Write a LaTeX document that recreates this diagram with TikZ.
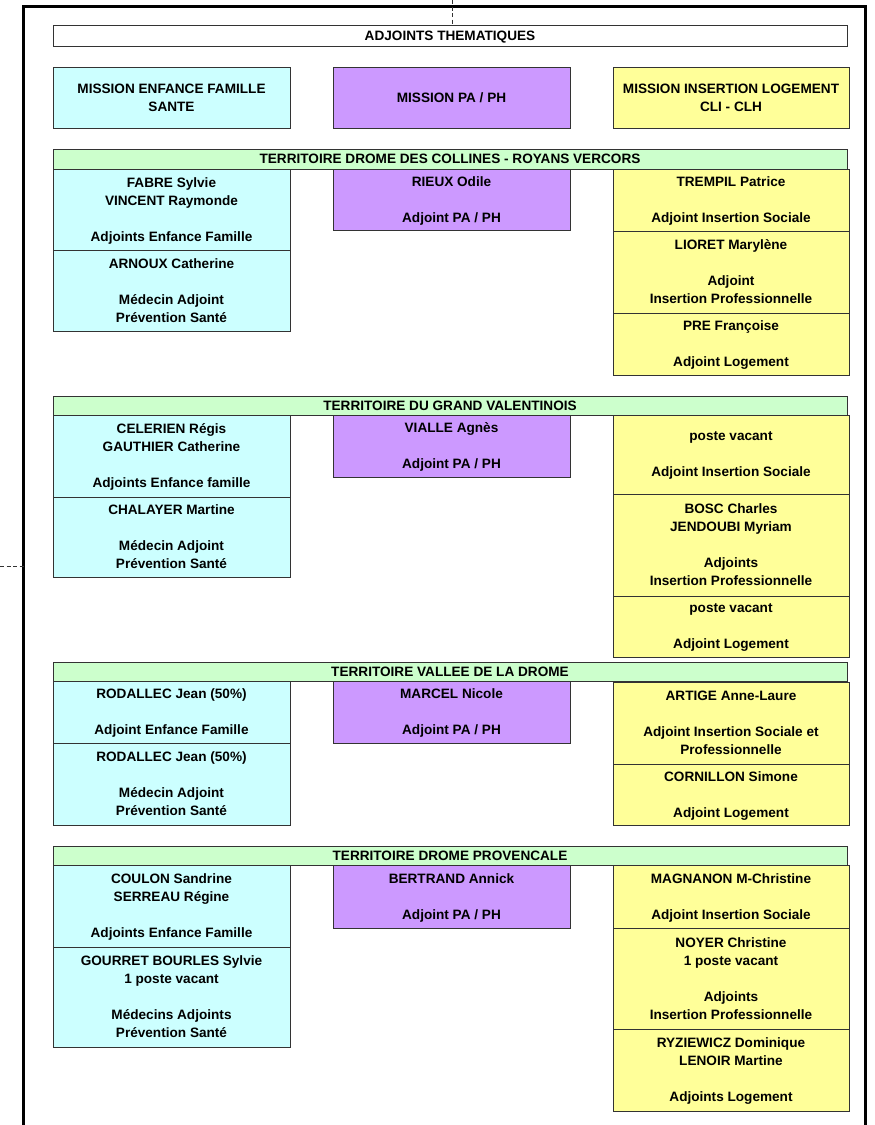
\documentclass[tikz,border=0pt]{standalone}
\usepackage{fontspec}
\setmainfont{Liberation Sans}
\usetikzlibrary{shadows}
\definecolor{cyanbox}{HTML}{CCFFFF}
\definecolor{purplebox}{HTML}{CC99FF}
\definecolor{yellowbox}{HTML}{FFFF99}
\definecolor{greenbox}{HTML}{CCFFCC}
\newcommand\mybox[7]{%
  \pgfmathsetmacro\bw{#5-#3}\pgfmathsetmacro\bh{#6-#4}%
  \node[#2, minimum width=\bw pt, minimum height=\bh pt] (#1) at ({(#3+#5)/2},{-(#4+#6)/2}) {#7};}
\begin{document}
\begin{tikzpicture}[x=1pt,y=1pt,
  basebox/.style={draw=black!80, line width=0.8pt, inner sep=0pt, align=center,
    text depth=0pt,
    font=\fontsize{13.6}{18}\selectfont\bfseries,
    drop shadow={shadow xshift=1.2pt, shadow yshift=-1.2pt, fill=black, opacity=0.45}},
  whitebox/.style={basebox, fill=white},
  cbox/.style={basebox, fill=cyanbox},
  pbox/.style={basebox, fill=purplebox},
  ybox/.style={basebox, fill=yellowbox},
  gbox/.style={basebox, fill=greenbox},
  frameline/.style={line width=3pt, black},
  dashline/.style={line width=0.8pt, black!80, dash pattern=on 4pt off 2.5pt}]
\useasboundingbox (0,0) rectangle (875,-1125);
\fill[white] (0,0) rectangle (875,-1125);
% frame
\coordinate (frameL) at (23.5,-6.5);
\coordinate (frameR) at (865.5,-6.5);
\draw[frameline] (23.5,-1130) -- (frameL) -- (frameR) -- (865.5,-1130);
\coordinate (topend) at (452,0);
\coordinate (leftend) at (0,-566);
\draw[dashline] (topend) -- (452,-25);
\draw[dashline] (leftend) -- (leftend -| frameL);
% heading
\mybox{adj}{whitebox}{53}{25}{847}{46}{ADJOINTS THEMATIQUES}
\mybox{mef}{cbox}{53}{67}{290}{128}{MISSION ENFANCE FAMILLE\\SANTE}
\mybox{mpa}{pbox}{333}{67}{570}{128}{MISSION PA / PH}
\mybox{mil}{ybox}{613}{67}{849}{128}{MISSION INSERTION LOGEMENT\\CLI - CLH}
% territory 1
\mybox{t1}{gbox}{53}{149}{847}{169}{TERRITOIRE DROME DES COLLINES - ROYANS VERCORS}
\mybox{t1c1}{cbox}{53}{169}{290}{250}{FABRE Sylvie\\VINCENT Raymonde\\[18pt]Adjoints Enfance Famille}
\mybox{t1c2}{cbox}{53}{250}{290}{331}{ARNOUX Catherine\\[18pt]Médecin Adjoint\\Prévention Santé}
\mybox{t1p}{pbox}{333}{169}{570}{230}{RIEUX Odile\\[18pt]Adjoint PA / PH}
\mybox{t1y1}{ybox}{613}{169}{849}{231}{TREMPIL Patrice\\[18pt]Adjoint Insertion Sociale}
\mybox{t1y2}{ybox}{613}{231}{849}{313}{LIORET Marylène\\[18pt]Adjoint\\Insertion Professionnelle}
\mybox{t1y3}{ybox}{613}{313}{849}{375}{PRE Françoise\\[18pt]Adjoint Logement}
% territory 2
\mybox{t2}{gbox}{53}{396}{847}{415}{TERRITOIRE DU GRAND VALENTINOIS}
\mybox{t2c1}{cbox}{53}{415}{290}{497}{CELERIEN Régis\\GAUTHIER Catherine\\[18pt]Adjoints Enfance famille}
\mybox{t2c2}{cbox}{53}{497}{290}{577}{CHALAYER Martine\\[18pt]Médecin Adjoint\\Prévention Santé}
\mybox{t2p}{pbox}{333}{415}{570}{477}{VIALLE Agnès\\[18pt]Adjoint PA / PH}
\mybox{t2y1}{ybox}{613}{415}{849}{494}{poste vacant\\[18pt]Adjoint Insertion Sociale}
\mybox{t2y2}{ybox}{613}{494}{849}{596}{BOSC Charles\\JENDOUBI Myriam\\[18pt]Adjoints\\Insertion Professionnelle}
\mybox{t2y3}{ybox}{613}{596}{849}{657}{poste vacant\\[18pt]Adjoint Logement}
% territory 3
\mybox{t3}{gbox}{53}{662}{847}{681}{TERRITOIRE VALLEE DE LA DROME}
\mybox{t3c1}{cbox}{53}{681}{290}{743}{RODALLEC Jean (50\%)\\[18pt]Adjoint Enfance Famille}
\mybox{t3c2}{cbox}{53}{743}{290}{825}{RODALLEC Jean (50\%)\\[18pt]Médecin Adjoint\\Prévention Santé}
\mybox{t3p}{pbox}{333}{681}{570}{743}{MARCEL Nicole\\[18pt]Adjoint PA / PH}
\mybox{t3y1}{ybox}{613}{682}{849}{764}{ARTIGE Anne-Laure\\[18pt]Adjoint Insertion Sociale et\\Professionnelle}
\mybox{t3y2}{ybox}{613}{764}{849}{825}{CORNILLON Simone\\[18pt]Adjoint Logement}
% territory 4
\mybox{t4}{gbox}{53}{846}{847}{865}{TERRITOIRE DROME PROVENCALE}
\mybox{t4c1}{cbox}{53}{865}{290}{947}{COULON Sandrine\\SERREAU Régine\\[18pt]Adjoints Enfance Famille}
\mybox{t4c2}{cbox}{53}{947}{290}{1047}{GOURRET BOURLES Sylvie\\1 poste vacant\\[18pt]Médecins Adjoints\\Prévention Santé}
\mybox{t4p}{pbox}{333}{865}{570}{928}{BERTRAND Annick\\[18pt]Adjoint PA / PH}
\mybox{t4y1}{ybox}{613}{865}{849}{928}{MAGNANON M-Christine\\[18pt]Adjoint Insertion Sociale}
\mybox{t4y2}{ybox}{613}{928}{849}{1029}{NOYER Christine\\1 poste vacant\\[18pt]Adjoints\\Insertion Professionnelle}
\mybox{t4y3}{ybox}{613}{1029}{849}{1111}{RYZIEWICZ Dominique\\LENOIR Martine\\[18pt]Adjoints Logement}
\end{tikzpicture}
\end{document}
